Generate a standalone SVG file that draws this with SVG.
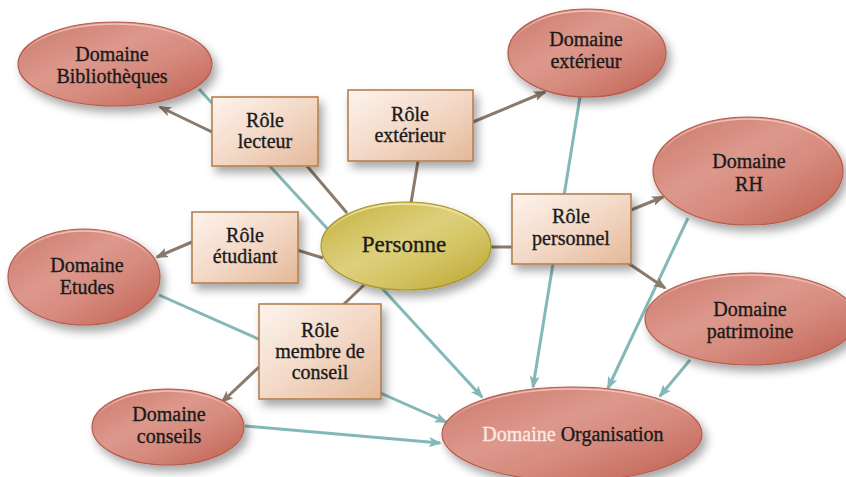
<svg xmlns="http://www.w3.org/2000/svg" width="846" height="477" viewBox="0 0 846 477">
  <defs>
    <linearGradient id="gDomain" x1="0" y1="0" x2="1" y2="1">
      <stop offset="0" stop-color="#c9786a"/>
      <stop offset="0.4" stop-color="#dd988c"/>
      <stop offset="0.6" stop-color="#d68b7e"/>
      <stop offset="1" stop-color="#bf5f4f"/>
    </linearGradient>
    <linearGradient id="gPerson" x1="0" y1="0" x2="1" y2="1">
      <stop offset="0" stop-color="#c4b03c"/>
      <stop offset="0.45" stop-color="#ddd07c"/>
      <stop offset="0.65" stop-color="#d4c463"/>
      <stop offset="1" stop-color="#b9a530"/>
    </linearGradient>
    <linearGradient id="gRole" x1="0" y1="0" x2="1" y2="1">
      <stop offset="0" stop-color="#fdf4ee"/>
      <stop offset="0.5" stop-color="#f3d9c7"/>
      <stop offset="1" stop-color="#e4b898"/>
    </linearGradient>
    <!-- light bevel along the upper edge of each ellipse -->
    <linearGradient id="gRim" x1="0" y1="0" x2="0" y2="1">
      <stop offset="0" stop-color="#f3c2b8" stop-opacity="1"/>
      <stop offset="0.35" stop-color="#f3c2b8" stop-opacity="0"/>
    </linearGradient>
    <linearGradient id="gRimP" x1="0" y1="0" x2="0" y2="1">
      <stop offset="0" stop-color="#f2eaa8" stop-opacity="1"/>
      <stop offset="0.35" stop-color="#f2eaa8" stop-opacity="0"/>
    </linearGradient>
    <filter id="shadow" x="-20%" y="-20%" width="150%" height="160%">
      <feDropShadow dx="4" dy="6" stdDeviation="5" flood-color="#000" flood-opacity="0.35"/>
    </filter>
    <marker id="arrowBrown" markerUnits="userSpaceOnUse" markerWidth="13" markerHeight="10" refX="11" refY="5" orient="auto">
      <path d="M0,0 L13,5 L0,10 L3,5 z" fill="#8c7a6b"/>
    </marker>
    <marker id="arrowTeal" markerUnits="userSpaceOnUse" markerWidth="13" markerHeight="10" refX="11" refY="5" orient="auto">
      <path d="M0,0 L13,5 L0,10 L3,5 z" fill="#84b7b7"/>
    </marker>
  </defs>
  <style>
    .domain { fill: url(#gDomain); stroke: #b65b4d; stroke-width: 1.2; filter: url(#shadow); }
    .rim { fill: none; stroke: url(#gRim); stroke-width: 1.5; }
    .rimP { fill: none; stroke: url(#gRimP); stroke-width: 1.5; }
    .person { fill: url(#gPerson); stroke: #a8962e; stroke-width: 1.2; filter: url(#shadow); }
    .role { fill: url(#gRole); stroke: #b5814f; stroke-width: 1.6; filter: url(#shadow); }
    text { font-family: "Liberation Serif", "DejaVu Serif", "Times New Roman", serif; font-size: 20px; fill: #1b1b1b; stroke: #1b1b1b; stroke-width: 0.35; text-anchor: middle; }
    .big { font-size: 23px; }
    .light { fill: #fbe9e4; stroke: #fbe9e4; }
    .brown { stroke: #8c7a6b; stroke-width: 3; fill: none; }
    .teal { stroke: #84b7b7; stroke-width: 3; fill: none; }
    .toBrown { marker-end: url(#arrowBrown); }
    .toTeal { marker-end: url(#arrowTeal); }
  </style>

  <!-- links into Domaine Organisation, drawn beneath the nodes -->
  <g id="connectors">
    <line class="teal toTeal" x1="199" y1="89" x2="482" y2="397"/>
    <line class="teal toTeal" x1="580" y1="97" x2="533" y2="387"/>
    <line class="teal toTeal" x1="688" y1="218" x2="608" y2="388"/>
    <line class="teal toTeal" x1="690" y1="360" x2="660" y2="396"/>
    <line class="teal toTeal" x1="159" y1="295" x2="446" y2="422"/>
    <line class="teal toTeal" x1="245" y1="426" x2="440" y2="443"/>

    <!-- Personne to its roles -->
    <line class="brown" x1="307" y1="166" x2="347" y2="213"/>
    <line class="brown" x1="418" y1="161" x2="411" y2="203"/>
    <line class="brown" x1="297" y1="250" x2="323" y2="258"/>
    <line class="brown" x1="491" y1="247" x2="512" y2="247"/>
    <line class="brown" x1="364" y1="285" x2="343" y2="305"/>

    <!-- roles to their domains -->
    <line class="brown toBrown" x1="212" y1="132" x2="160" y2="107"/>
    <line class="brown toBrown" x1="473" y1="122" x2="545" y2="92"/>
    <line class="brown toBrown" x1="192" y1="242" x2="157" y2="257"/>
    <line class="brown toBrown" x1="631" y1="210" x2="663" y2="197"/>
    <line class="brown toBrown" x1="628" y1="263" x2="665" y2="288"/>
    <line class="brown toBrown" x1="259" y1="367" x2="222" y2="402"/>
  </g>

  <g id="domaine-bibliotheques">
    <ellipse class="domain" cx="115" cy="64" rx="97" ry="42"/>
    <ellipse class="rim" cx="115" cy="64" rx="95" ry="40"/>
    <text x="112" y="61">Domaine</text>
    <text x="112" y="83">Bibliothèques</text>
  </g>

  <g id="domaine-exterieur">
    <ellipse class="domain" cx="587" cy="53" rx="79" ry="44"/>
    <ellipse class="rim" cx="587" cy="53" rx="77" ry="42"/>
    <text x="586" y="46">Domaine</text>
    <text x="586" y="68">extérieur</text>
  </g>

  <g id="domaine-rh">
    <ellipse class="domain" cx="748" cy="171" rx="95" ry="54"/>
    <ellipse class="rim" cx="748" cy="171" rx="93" ry="52"/>
    <text x="749" y="168">Domaine</text>
    <text x="749" y="191">RH</text>
  </g>

  <g id="domaine-patrimoine">
    <ellipse class="domain" cx="751" cy="319" rx="106" ry="46"/>
    <ellipse class="rim" cx="751" cy="319" rx="104" ry="44"/>
    <text x="750" y="316">Domaine</text>
    <text x="750" y="338">patrimoine</text>
  </g>

  <g id="domaine-etudes">
    <ellipse class="domain" cx="84" cy="277" rx="76" ry="48"/>
    <ellipse class="rim" cx="84" cy="277" rx="74" ry="46"/>
    <text x="87" y="272">Domaine</text>
    <text x="87" y="294">Etudes</text>
  </g>

  <g id="domaine-conseils">
    <ellipse class="domain" cx="168" cy="427" rx="76" ry="38"/>
    <ellipse class="rim" cx="168" cy="427" rx="74" ry="36"/>
    <text x="169" y="421">Domaine</text>
    <text x="169" y="443">conseils</text>
  </g>

  <g id="domaine-organisation">
    <ellipse class="domain" cx="572" cy="434" rx="130" ry="47"/>
    <ellipse class="rim" cx="572" cy="434" rx="128" ry="45"/>
    <text x="573" y="441"><tspan class="light">Domaine</tspan> Organisation</text>
  </g>

  <g id="personne">
    <ellipse class="person" cx="406" cy="246" rx="85" ry="44"/>
    <ellipse class="rimP" cx="406" cy="246" rx="83" ry="42"/>
    <text class="big" x="404" y="252">Personne</text>
  </g>

  <g id="role-lecteur">
    <rect class="role" x="212" y="97" width="106" height="69"/>
    <text x="265" y="127">Rôle</text>
    <text x="265" y="148">lecteur</text>
  </g>

  <g id="role-exterieur">
    <rect class="role" x="348" y="90" width="125" height="71"/>
    <text x="410" y="121">Rôle</text>
    <text x="410" y="142">extérieur</text>
  </g>

  <g id="role-etudiant">
    <rect class="role" x="192" y="212" width="106" height="71"/>
    <text x="245" y="242">Rôle</text>
    <text x="245" y="263">étudiant</text>
  </g>

  <g id="role-personnel">
    <rect class="role" x="512" y="194" width="119" height="70"/>
    <text x="571" y="223">Rôle</text>
    <text x="571" y="245">personnel</text>
  </g>

  <g id="role-membre-de-conseil">
    <rect class="role" x="259" y="304" width="122" height="95"/>
    <text x="320" y="337">Rôle</text>
    <text x="320" y="358">membre de</text>
    <text x="320" y="379">conseil</text>
  </g>
</svg>
